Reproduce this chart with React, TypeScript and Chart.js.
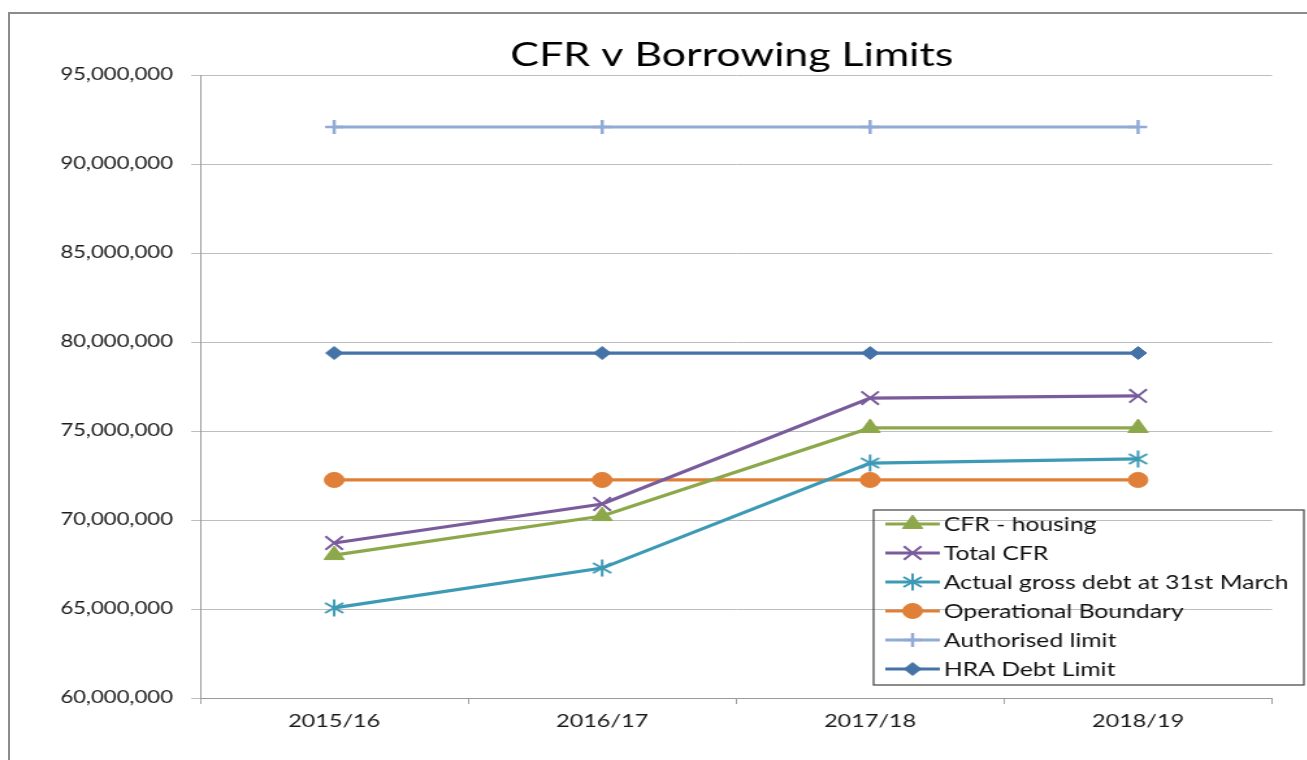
import React, { useEffect, useRef } from 'react';
import { Chart, registerables } from 'chart.js';
import { drawPoint } from 'chart.js/helpers';

Chart.register(...registerables);

const categories = ['2015/16', '2016/17', '2017/18', '2018/19'];
const cfrHousing = [68030000, 70220000, 75170000, 75170000];
const totalCfr = [68710000, 70900000, 76850000, 76970000];
const actualGrossDebt = [65060000, 67300000, 73200000, 73430000];
const operationalBoundary = [72250000, 72250000, 72250000, 72250000];
const authorisedLimit = [92080000, 92080000, 92080000, 92080000];
const hraDebtLimit = [79380000, 79380000, 79380000, 79380000];

const yMin = 60000000;
const yMax = 95000000;
const yStep = 5000000;

const title = 'CFR v Borrowing Limits';

const SX = 1.3;
const CW = 1005;
const CH = 760;

function makeStar(color: string) {
  const c = document.createElement('canvas');
  c.width = 20;
  c.height = 20;
  const g = c.getContext('2d')!;
  g.strokeStyle = color;
  g.lineWidth = 2;
  g.beginPath();
  g.moveTo(10, 1.5);
  g.lineTo(10, 18.5);
  g.moveTo(3, 5);
  g.lineTo(17, 15);
  g.moveTo(3, 15);
  g.lineTo(17, 5);
  g.stroke();
  return c;
}

export default function App() {
  const ref = useRef<HTMLCanvasElement | null>(null);

  useEffect(() => {
    if (!ref.current) return;
    const star = makeStar('#3d9ab5');

    const legendPlugin = {
      id: 'customLegendTitle',
      afterDraw(chart: any) {
        const ctx = chart.ctx;
        ctx.save();
        // title
        ctx.fillStyle = '#000';
        ctx.font = '33px Lato';
        ctx.textAlign = 'center';
        ctx.textBaseline = 'middle';
        ctx.fillText(title, 563, 55);
        // legend box
        const bx = 672, by = 510, bw = 331, bh = 175;
        ctx.strokeStyle = '#404040';
        ctx.lineWidth = 1.2;
        ctx.strokeRect(bx, by, bw, bh);
        const rows = [524, 553, 582, 611, 640, 669];
        ctx.font = '19px Lato';
        ctx.textAlign = 'left';
        ctx.textBaseline = 'middle';
        chart.data.datasets.forEach((ds: any, i: number) => {
          const y = rows[i];
          ctx.strokeStyle = ds.borderColor;
          ctx.lineWidth = 3.2;
          ctx.beginPath();
          ctx.moveTo(681, y);
          ctx.lineTo(723, y);
          ctx.stroke();
          ctx.fillStyle = ds.pointBackgroundColor;
          ctx.strokeStyle = ds.pointBorderColor;
          ctx.lineWidth = ds.pointBorderWidth;
          drawPoint(ctx, { pointStyle: ds.pointStyle, rotation: 0, radius: ds.pointRadius, borderWidth: ds.pointBorderWidth }, 702, y);
          ctx.fillStyle = '#111';
          ctx.fillText(ds.label, 726, y + 1);
        });
        ctx.restore();
      },
    };

    const mk = (label: string, data: number[], color: string, pointStyle: any, radius: number, pbw: number) => ({
      label,
      data,
      borderColor: color,
      backgroundColor: color,
      pointBackgroundColor: color,
      pointBorderColor: color,
      pointStyle,
      pointRadius: radius,
      pointHoverRadius: radius,
      pointBorderWidth: pbw,
      borderWidth: 3.2,
      tension: 0,
      fill: false,
    });

    const chart = new Chart(ref.current, {
      type: 'line',
      data: {
        labels: categories,
        datasets: [
          mk('CFR - housing', cfrHousing, '#8da84a', 'triangle', 9, 1),
          mk('Total CFR', totalCfr, '#7a5c9c', 'crossRot', 9.5, 2),
          mk('Actual gross debt at 31st March', actualGrossDebt, '#3d9ab5', star, 9, 2),
          mk('Operational Boundary', operationalBoundary, '#e07f38', 'circle', 7.5, 1),
          mk('Authorised limit', authorisedLimit, '#92aad6', 'cross', 7, 2.5),
          mk('HRA Debt Limit', hraDebtLimit, '#4572a7', 'rectRot', 6.5, 1),
        ],
      },
      options: {
        responsive: false,
        animation: false,
        layout: { padding: { top: 75, left: 0, right: 26.5, bottom: 0 } },
        plugins: {
          legend: { display: false },
          title: { display: false },
          tooltip: { enabled: false },
        },
        scales: {
          x: {
            offset: true,
            grid: { drawOnChartArea: false, drawTicks: true, tickLength: 6, color: '#a0a0a0', offset: true },
            border: { color: '#9a9a9a', width: 1 },
            ticks: { color: '#1a1a1a', font: { family: 'Lato', size: 18 }, padding: 6 },
            afterFit(scale: any) {
              scale.height = 62;
            },
          },
          y: {
            min: yMin,
            max: yMax,
            ticks: {
              stepSize: yStep,
              color: '#1a1a1a',
              font: { family: 'Lato', size: 17 },
              padding: 14,
              callback: (v: any) => Number(v).toLocaleString('en-US'),
            },
            grid: { color: '#bdbdbd', tickLength: 7, lineWidth: 1 },
            border: { color: '#9a9a9a', width: 1 },
            afterFit(scale: any) {
              scale.width = 154;
            },
          },
        },
      },
      plugins: [legendPlugin],
    });
    return () => chart.destroy();
  }, []);

  return (
    <div style={{ position: 'fixed', left: 0, top: 0, width: 1307, height: 760, overflow: 'hidden', background: '#fff' }}>
      <div
        style={{
          position: 'absolute',
          left: 8,
          top: 12,
          width: 2000,
          height: 2000,
          borderTop: '2px solid #8c8c8c',
          borderLeft: '2px solid #8c8c8c',
        }}
      />
      <div style={{ position: 'absolute', left: 0, top: 0, width: CW, height: CH, transform: `scaleX(${SX})`, transformOrigin: '0 0' }}>
        <canvas ref={ref} width={CW} height={CH} style={{ display: 'block' }} />
      </div>
    </div>
  );
}
